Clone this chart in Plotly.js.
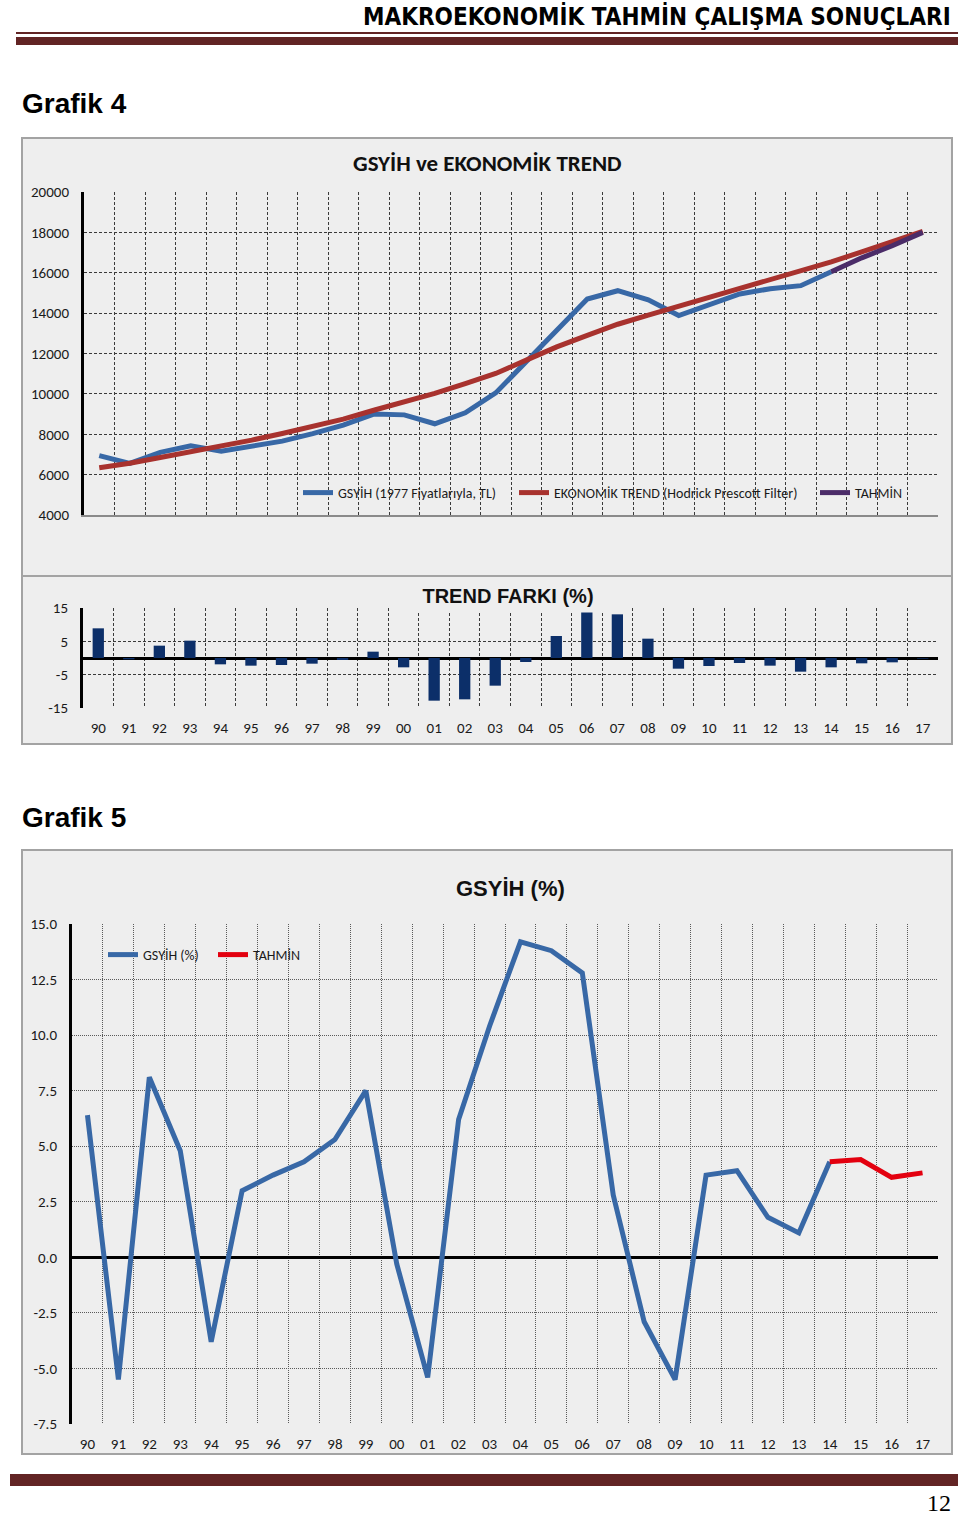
<!DOCTYPE html>
<html>
<head>
<meta charset="utf-8">
<script src="https://cdn.plot.ly/plotly-3.0.1.min.js"></script>
<style>
html,body{margin:0;padding:0;background:#fff;}
#chart{width:960px;height:1520px;}
</style>
</head>
<body>
<div id="chart"></div>
<script>
// ---------- DATA ----------
const years = ['90','91','92','93','94','95','96','97','98','99','00','01','02','03','04','05','06','07','08','09','10','11','12','13','14','15','16','17'];
const actualYears = ['90','91','92','93','94','95','96','97','98','99','00','01','02','03','04','05','06','07','08','09','10','11','12','13','14'];
const forecastYears = ['14','15','16','17'];

// Grafik 4 - GSYİH (1977 fiyatlarıyla, TL)
const gdpLevel = [6940,6560,7100,7430,7160,7380,7660,8030,8450,9000,8960,8520,9060,10050,11600,13150,14700,15110,14660,13880,14400,14950,15210,15360,16050];
const gdpLevelForecast = [16050,16740,17340,18000];
const hpTrend = [6340,6560,6850,7130,7410,7710,8040,8370,8750,9190,9610,10020,10510,11010,11670,12330,12900,13450,13900,14340,14770,15180,15630,16040,16540,17030,17530,18050];

// Grafik 4 - TREND FARKI (%)
const trendGap = [8.9,-0.4,3.7,5.2,-1.9,-2.3,-2.1,-1.7,-0.6,1.9,-2.8,-12.8,-12.4,-8.3,-1.2,6.6,13.8,13.1,5.8,-3.2,-2.4,-1.5,-2.3,-4.1,-2.8,-1.6,-1.3,-0.2];

// Grafik 5 - GSYİH (%)
const gdpGrowth = [6.4,-5.5,8.1,4.8,-3.8,3.0,3.7,4.3,5.3,7.5,-0.3,-5.4,6.2,10.4,14.2,13.8,12.8,2.8,-2.9,-5.5,3.7,3.9,1.8,1.1,4.3];
const gdpGrowthForecast = [4.3,4.4,3.6,3.8];

// tick labels
const y1Ticks = [4000,6000,8000,10000,12000,14000,16000,18000,20000];
const y1TickText = ['4000','6000','8000','10000','12000','14000','16000','18000','20000'];
const y2Ticks = [-15,-5,5,15];
const y2TickText = ['-15','-5','5','15'];
const y3Ticks = [-7.5,-5,-2.5,0,2.5,5,7.5,10,12.5,15];
const y3TickText = ['-7.5','-5.0','-2.5','0.0','2.5','5.0','7.5','10.0','12.5','15.0'];

// names / texts
const seriesNames = ['GSYİH (1977 Fiyatlarıyla, TL)','EKONOMİK TREND (Hodrick Prescott Filter)','TAHMİN','GSYİH (%)','TAHMİN'];

// ---------- LAYOUT HELPERS ----------
const W = 960, H = 1520;
const px = v => v / W;
const py = v => 1 - v / H;

const tickFontFam = 'Carlito, Lato, "Open Sans", sans-serif';
const boldFam = '"Liberation Sans", Arial, sans-serif';

const C_BLUE = '#3868a6';
const C_TREND = '#a8322e';
const C_PURPLE = '#4b2c68';
const C_RED = '#e3000f';
const C_BAR = '#0c2f69';
const C_PANEL = '#eeeeee';
const C_MAROON = '#622424';

const traces = [
  {x: actualYears, y: gdpLevel, type:'scatter', mode:'lines', name: seriesNames[0],
   line:{color:C_BLUE, width:5}, xaxis:'x', yaxis:'y', legend:'legend'},
  {x: years, y: hpTrend, type:'scatter', mode:'lines', name: seriesNames[1],
   line:{color:C_TREND, width:5}, xaxis:'x', yaxis:'y', legend:'legend2'},
  {x: forecastYears, y: gdpLevelForecast, type:'scatter', mode:'lines', name: seriesNames[2],
   line:{color:C_PURPLE, width:5}, xaxis:'x', yaxis:'y', legend:'legend3'},
  {x: years, y: trendGap, type:'bar', name:'TREND FARKI (%)', marker:{color:C_BAR},
   xaxis:'x2', yaxis:'y2', showlegend:false},
  {x: actualYears, y: gdpGrowth, type:'scatter', mode:'lines', name: seriesNames[3],
   line:{color:C_BLUE, width:5}, xaxis:'x3', yaxis:'y3', legend:'legend4'},
  {x: forecastYears, y: gdpGrowthForecast, type:'scatter', mode:'lines', name: seriesNames[4],
   line:{color:C_RED, width:5}, xaxis:'x3', yaxis:'y3', legend:'legend5'}
];

function xAxis(domain, anchor, showLabels, gridColor, gridDash, bottomLine){
  return {
    domain: domain, anchor: anchor, type:'category',
    categoryorder:'array', categoryarray: years,
    range:[-0.5, years.length - 0.5],
    tickson:'boundaries', ticks:'', showgrid:true,
    gridcolor: gridColor, griddash: gridDash, gridwidth:1,
    showticklabels: showLabels,
    tickfont:{family:tickFontFam, size:15, color:'#1a1a1a'},
    ticklabelstandoff: 9,
    showline: bottomLine, linecolor:'#8a8a8a', linewidth:1.5,
    zeroline:false, fixedrange:true
  };
}
function yAxis(domain, anchor, range, tv, tt, gridColor, gridDash, zero){
  return {
    domain: domain, anchor: anchor, range: range,
    tickvals: tv, ticktext: tt, ticks:'',
    showgrid:true, gridcolor: gridColor, griddash: gridDash, gridwidth:1,
    showline:true, linecolor:'#000', linewidth:3,
    zeroline: zero, zerolinecolor:'#000', zerolinewidth:3,
    tickfont:{family:tickFontFam, size:15, color:'#1a1a1a'},
    ticklabelstandoff: 9,
    fixedrange:true
  };
}

function legendAt(xPix, yPix){
  return {x: px(xPix), y: py(yPix), xanchor:'left', yanchor:'middle',
    orientation:'h', bgcolor:'rgba(0,0,0,0)', borderwidth:0,
    font:{family:tickFontFam, size:14, color:'#1a1a1a'}, itemwidth:30,
    tracegroupgap:0, itemclick:false, itemdoubleclick:false};
}

const layout = {
  width: W, height: H,
  margin:{l:0, r:0, t:0, b:0, pad:0},
  paper_bgcolor:'#ffffff', plot_bgcolor:'rgba(0,0,0,0)',
  font:{family:tickFontFam, color:'#1a1a1a'},
  hovermode:false, bargap:0.63,
  xaxis: xAxis([px(84), px(938)], 'y', false, '#3a3a3a', '3px,2px', true),
  yaxis: yAxis([py(515), py(192)], 'x', [4000,20000], y1Ticks, y1TickText, '#3a3a3a', '3px,2px', false),
  xaxis2: xAxis([px(83), px(938)], 'y2', true, '#3a3a3a', '3px,2px', false),
  yaxis2: yAxis([py(708), py(608)], 'x2', [-15,15], y2Ticks, y2TickText, '#3a3a3a', '3px,2px', true),
  xaxis3: xAxis([px(72), px(938)], 'y3', true, '#5a5a5a', '1px,1px', false),
  yaxis3: yAxis([py(1424), py(924)], 'x3', [-7.5,15], y3Ticks, y3TickText, '#5a5a5a', '1px,1px', true),
  legend: legendAt(298, 493),
  legend2: legendAt(514, 493),
  legend3: legendAt(815, 493),
  legend4: legendAt(103, 955),
  legend5: legendAt(213, 955),
  shapes: [
    // header rules
    {type:'rect', xref:'paper', yref:'paper', x0:px(16), x1:px(958), y0:py(34), y1:py(32), fillcolor:C_MAROON, line:{width:0}, layer:'below'},
    {type:'rect', xref:'paper', yref:'paper', x0:px(16), x1:px(958), y0:py(45), y1:py(37), fillcolor:C_MAROON, line:{width:0}, layer:'below'},
    // panels
    {type:'rect', xref:'paper', yref:'paper', x0:px(22), x1:px(952), y0:py(576), y1:py(138), fillcolor:C_PANEL, line:{color:'#a3a3a3', width:2}, layer:'below'},
    {type:'rect', xref:'paper', yref:'paper', x0:px(22), x1:px(952), y0:py(744), y1:py(576), fillcolor:C_PANEL, line:{color:'#a3a3a3', width:2}, layer:'below'},
    {type:'rect', xref:'paper', yref:'paper', x0:px(22), x1:px(952), y0:py(1454), y1:py(850), fillcolor:C_PANEL, line:{color:'#a3a3a3', width:2}, layer:'below'},
    // footer rule
    {type:'rect', xref:'paper', yref:'paper', x0:px(10), x1:px(958), y0:py(1486), y1:py(1474), fillcolor:C_MAROON, line:{width:0}, layer:'below'}
  ],
  annotations: [
    {text:'<b>MAKROEKONOMİK TAHMİN ÇALIŞMA SONUÇLARI</b>', xref:'paper', yref:'paper', x:px(953), y:py(16),
     xanchor:'right', yanchor:'middle', showarrow:false,
     font:{family:'"Liberation Sans Narrow", "Arial Narrow", "DejaVu Sans Condensed", sans-serif', size:24, color:'#000'}},
    {text:'<b>Grafik 4</b>', xref:'paper', yref:'paper', x:px(20), y:py(104), xanchor:'left', yanchor:'middle', showarrow:false,
     font:{family:boldFam, size:28, color:'#000'}},
    {text:'<b>Grafik 5</b>', xref:'paper', yref:'paper', x:px(20), y:py(817), xanchor:'left', yanchor:'middle', showarrow:false,
     font:{family:boldFam, size:28, color:'#000'}},
    {text:'<b>GSYİH ve EKONOMİK TREND</b>', xref:'paper', yref:'paper', x:px(487), y:py(163), xanchor:'center', yanchor:'middle', showarrow:false,
     font:{family:tickFontFam, size:23, color:'#111'}},
    {text:'<b>TREND FARKI (%)</b>', xref:'paper', yref:'paper', x:px(508), y:py(596), xanchor:'center', yanchor:'middle', showarrow:false,
     width:196, height:30, bgcolor:C_PANEL,
     font:{family:boldFam, size:20, color:'#111'}},
    {text:'<b>GSYİH (%)</b>', xref:'paper', yref:'paper', x:px(510), y:py(888), xanchor:'center', yanchor:'middle', showarrow:false,
     font:{family:boldFam, size:22, color:'#111'}},
    {text:'12', xref:'paper', yref:'paper', x:px(953), y:py(1503), xanchor:'right', yanchor:'middle', showarrow:false,
     font:{family:'"Liberation Serif", "Times New Roman", serif', size:24, color:'#000'}}
  ]
};

Plotly.newPlot('chart', traces, layout, {staticPlot:true, displayModeBar:false});
</script>
</body>
</html>
